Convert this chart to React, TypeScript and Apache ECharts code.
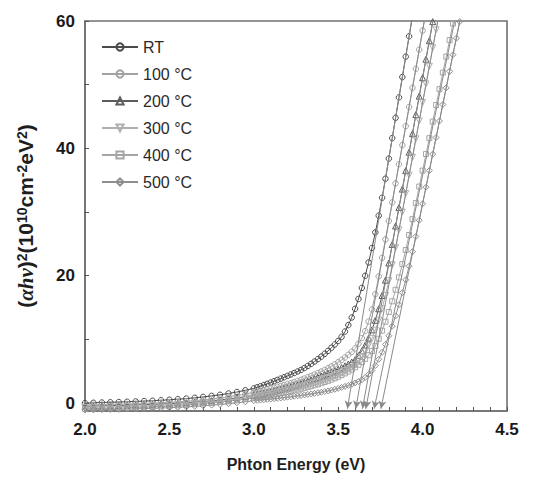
import React, { useEffect, useRef } from "react";
import * as echarts from "echarts";

// Photon energy grid (eV)
const energy = [
  2.0, 2.05, 2.1, 2.15, 2.2, 2.25, 2.3, 2.35, 2.4, 2.45, 2.5, 2.55, 2.6, 2.65, 2.7, 2.75, 2.8, 2.85, 2.9, 2.95, 3.0,
  3.02, 3.04, 3.06, 3.08, 3.1, 3.12, 3.14, 3.16, 3.18, 3.2,
  3.22, 3.24, 3.26, 3.28, 3.3, 3.32, 3.34, 3.36, 3.38, 3.4,
  3.42, 3.44, 3.46, 3.48, 3.5, 3.52, 3.54, 3.56, 3.58, 3.6,
  3.62, 3.64, 3.66, 3.68, 3.7, 3.72, 3.74, 3.76, 3.78, 3.8,
  3.82, 3.84, 3.86, 3.88, 3.9, 3.92, 3.94, 3.96, 3.98, 4.0,
  4.02, 4.04, 4.06, 4.08, 4.1, 4.12, 4.14, 4.16, 4.18, 4.2,
  4.22, 4.24,
];

const seriesNames = ["RT", "100 °C", "200 °C", "300 °C", "400 °C", "500 °C"];

const rtValues = [
  0.0, 0.04, 0.08, 0.12, 0.16, 0.2, 0.25, 0.3, 0.36, 0.43, 0.51, 0.6, 0.7, 0.82, 0.96, 1.12, 1.3, 1.5, 1.73, 2.0, 2.3,
  2.47, 2.65, 2.83, 3.02, 3.22, 3.42, 3.63, 3.84, 4.05, 4.27,
  4.49, 4.72, 4.96, 5.2, 5.5, 5.82, 6.16, 6.52, 6.9, 7.3,
  7.73, 8.19, 8.68, 9.2, 9.75, 10.4, 11.23, 12.24, 13.43, 14.8,
  16.35, 18.08, 19.99, 22.08, 24.35, 26.8, 29.43, 32.24, 35.23, 38.4,
  41.6, 44.8, 48.0, 51.2, 54.4, 57.6, 60.8,
];

const t100Values = [
  -0.3, -0.27, -0.24, -0.21, -0.18, -0.15, -0.11, -0.07, -0.02, 0.04, 0.11, 0.19, 0.28, 0.38, 0.5, 0.64, 0.8, 0.98, 1.19, 1.42, 1.68,
  1.79, 1.91, 2.03, 2.15, 2.28, 2.41, 2.55, 2.69, 2.84, 2.99,
  3.15, 3.31, 3.48, 3.66, 3.85, 4.05, 4.26, 4.48, 4.71, 4.95,
  5.2, 5.47, 5.76, 6.07, 6.4, 6.76, 7.15, 7.58, 8.05, 8.58,
  9.3, 10.2, 11.3, 12.8, 14.7, 17.1, 19.9, 22.8, 25.7, 28.6,
  31.5, 34.5, 37.5, 40.5, 43.5, 46.5, 49.5, 52.5, 55.5, 58.5,
  61.5,
];

const t200Values = [
  -0.5, -0.47, -0.44, -0.41, -0.38, -0.34, -0.3, -0.26, -0.21, -0.15, -0.09, -0.02, 0.06, 0.15, 0.25, 0.36, 0.49, 0.64, 0.81, 1.0, 1.21,
  1.31, 1.41, 1.52, 1.63, 1.75, 1.87, 2.0, 2.13, 2.27, 2.41,
  2.56, 2.72, 2.88, 3.05, 3.23, 3.42, 3.62, 3.83, 4.04, 4.25,
  4.45, 4.65, 4.86, 5.08, 5.32, 5.57, 5.84, 6.13, 6.45, 6.8,
  7.45, 8.2, 9.1, 10.2, 11.5, 13.0, 14.8, 16.9, 19.3, 22.0,
  24.9, 27.8, 30.7, 33.6, 36.5, 39.4, 42.3, 45.3, 48.2, 51.1,
  54.0, 56.9, 59.9, 62.8,
];

const t300Values = [
  -0.7, -0.67, -0.64, -0.61, -0.58, -0.54, -0.5, -0.46, -0.41, -0.35, -0.29, -0.22, -0.14, -0.05, 0.05, 0.16, 0.29, 0.43, 0.59, 0.78, 0.99,
  1.08, 1.17, 1.27, 1.37, 1.47, 1.58, 1.69, 1.81, 1.93, 2.06,
  2.19, 2.33, 2.47, 2.62, 2.78, 2.94, 3.11, 3.29, 3.48, 3.68,
  3.85, 4.03, 4.22, 4.42, 4.63, 4.86, 5.1, 5.36, 5.64, 6.0,
  6.6, 7.3, 8.1, 9.05, 10.15, 11.45, 13.0, 14.8, 16.9, 19.2,
  21.7, 24.4, 27.2, 30.0, 32.9, 35.8, 38.6, 41.5, 44.3, 47.2,
  50.1, 52.9, 55.8, 58.6, 61.5,
];

const t400Values = [
  -0.9, -0.87, -0.84, -0.81, -0.78, -0.74, -0.7, -0.65, -0.6, -0.54, -0.47, -0.39, -0.3, -0.2, -0.09, 0.03, 0.16, 0.3, 0.46, 0.63, 0.82,
  0.9, 0.98, 1.07, 1.16, 1.25, 1.34, 1.44, 1.54, 1.65, 1.76,
  1.87, 1.99, 2.11, 2.24, 2.37, 2.51, 2.65, 2.8, 2.95, 3.11,
  3.3, 3.49, 3.69, 3.91, 4.14, 4.39, 4.66, 4.95, 5.27, 5.62,
  6.01, 6.45, 6.95, 7.52, 8.17, 8.98, 10.1, 11.37, 12.77, 14.3,
  15.98, 17.79, 19.73, 21.82, 24.03, 26.39, 28.88, 31.4, 34.0, 36.5,
  39.1, 41.6, 44.2, 46.8, 49.3, 51.9, 54.4, 57.0, 59.6, 62.1,
];

const t500Values = [
  -1.1, -1.07, -1.04, -1.01, -0.98, -0.95, -0.91, -0.87, -0.83, -0.78, -0.73, -0.67, -0.6, -0.52, -0.43, -0.33, -0.22, -0.1, 0.04, 0.2, 0.37,
  0.42, 0.47, 0.52, 0.57, 0.62, 0.68, 0.74, 0.8, 0.86, 0.92,
  0.99, 1.06, 1.13, 1.2, 1.28, 1.36, 1.44, 1.52, 1.61, 1.7,
  1.8, 1.91, 2.03, 2.16, 2.3, 2.45, 2.61, 2.78, 2.96, 3.16,
  3.38, 3.66, 4.02, 4.48, 5.1, 5.89, 6.87, 7.97, 9.21, 10.57,
  12.07, 13.69, 15.45, 17.33, 19.35, 21.49, 23.77, 26.17, 28.71, 31.3,
  33.9, 36.5, 39.1, 41.7, 44.3, 46.9, 49.5, 52.1, 54.7, 57.3,
  59.9, 62.5,
];

// Extrapolated band-gap (tangent line intercepts) and where each tangent meets the top (y = 60)
const gapEnergy = [3.56, 3.61, 3.65, 3.67, 3.72, 3.76];
const tangentTopEnergy = [3.935, 4.01, 4.061, 4.09, 4.19, 4.22];

const xTickValues = [
  2.0, 2.1, 2.2, 2.3, 2.4, 2.5, 2.6, 2.7, 2.8, 2.9, 3.0, 3.1, 3.2, 3.3, 3.4, 3.5, 3.6, 3.7, 3.8, 3.9, 4.0, 4.1, 4.2, 4.3, 4.4, 4.5,
];
const xLabelValues = [2.0, 2.5, 3.0, 3.5, 4.0, 4.5];
const yTickValues = [0, 10, 20, 30, 40, 50, 60];
const yLabelValues = [0, 20, 40, 60];

const seriesValues = [rtValues, t100Values, t200Values, t300Values, t400Values, t500Values];
const seriesColors = ["#4a4a4a", "#a2a2a2", "#5c5c5c", "#b0b0b0", "#a6a6a6", "#8e8e8e"];
const seriesSymbols = ["circle", "circle", "triangle", "triangle", "rect", "diamond"];
const seriesSymbolRotate = [0, 0, 0, 180, 0, 0];
const seriesSymbolSize = [5.5, 5.5, 6, 6, 5, 6];

const FONT = "'Liberation Sans', Arial, Helvetica, sans-serif";
const ARROW_Y = -0.9;

export default function App() {
  const ref = useRef<HTMLDivElement>(null);

  useEffect(() => {
    document.body.style.margin = "0";
    if (!ref.current) return;
    const chart = echarts.init(ref.current, undefined, { renderer: "svg" });

    const lineSeries = seriesNames.map((name, k) => ({
      name,
      type: "line",
      data: seriesValues[k].map((v, i) => [energy[i], v]),
      symbol: seriesSymbols[k],
      symbolRotate: seriesSymbolRotate[k],
      symbolSize: seriesSymbolSize[k],
      showSymbol: true,
      clip: true,
      lineStyle: { color: seriesColors[k], width: 1 },
      itemStyle: { color: "rgba(255,255,255,0)", borderColor: seriesColors[k], borderWidth: 1 },
      emphasis: { disabled: true },
      z: 2,
    }));

    const tangentLines = gapEnergy.map((eg, k) => {
      const top = tangentTopEnergy[k];
      const startX = eg + (ARROW_Y * (top - eg)) / 60;
      return [{ coord: [startX, ARROW_Y] }, { coord: [top, 60] }];
    });

    const option = {
      animation: false,
      textStyle: { fontFamily: FONT },
      grid: {
        left: 85,
        right: 39,
        top: 21,
        bottom: 69,
        show: true,
        borderColor: "#707070",
        borderWidth: 1.6,
      },
      legend: {
        data: seriesNames,
        orient: "vertical",
        left: 96,
        top: 34,
        itemWidth: 36,
        itemHeight: 9,
        itemGap: 11,
        textStyle: { fontSize: 16, color: "#2a2a2a", fontFamily: FONT, lineHeight: 16 },
        selectedMode: false,
      },
      xAxis: {
        type: "value",
        min: 2.0,
        max: 4.5,
        name: "Phton Energy (eV)",
        nameLocation: "middle",
        nameGap: 45,
        nameTextStyle: { fontSize: 16, fontWeight: "bold", color: "#1e1e1e", fontFamily: FONT },
        axisLine: { show: true, onZero: false, lineStyle: { color: "#707070", width: 1.6 } },
        axisTick: {
          show: true,
          inside: true,
          length: 4,
          customValues: xTickValues,
          lineStyle: { color: "#555", width: 1 },
        },
        axisLabel: {
          customValues: xLabelValues,
          formatter: (v: number) => v.toFixed(1),
          fontSize: 17,
          fontWeight: "bold",
          color: "#1a1a1a",
          margin: 10,
          fontFamily: FONT,
        },
        splitLine: { show: false },
      },
      yAxis: {
        type: "value",
        min: -1.25,
        max: 60,
        name: "{b|(}{i|αhν}{b|)}{s|2}{b|(10}{s|10}{b|cm}{s|-2}{b|eV}{s|2}{b|)}",
        nameLocation: "middle",
        nameGap: 49,
        nameRotate: 90,
        nameTextStyle: {
          fontSize: 21,
          color: "#1e1e1e",
          fontFamily: FONT,
          rich: {
            b: { fontSize: 21, fontWeight: "bold", color: "#1e1e1e", fontFamily: FONT },
            i: { fontSize: 21, fontWeight: "bold", fontStyle: "italic", color: "#1e1e1e", fontFamily: "'Liberation Serif', serif" },
            s: { fontSize: 14, fontWeight: "bold", color: "#1e1e1e", fontFamily: FONT, verticalAlign: "top" },
          },
        },
        axisLine: { show: true, onZero: false, lineStyle: { color: "#707070", width: 1.6 } },
        axisTick: {
          show: true,
          inside: true,
          length: 4,
          customValues: yTickValues,
          lineStyle: { color: "#555", width: 1 },
        },
        axisLabel: {
          customValues: yLabelValues,
          fontSize: 17,
          fontWeight: "bold",
          color: "#1a1a1a",
          margin: 10,
          fontFamily: FONT,
        },
        splitLine: { show: false },
      },
      series: [
        ...lineSeries,
        {
          name: "tangents",
          type: "line",
          data: [],
          silent: true,
          markLine: {
            silent: true,
            symbol: ["arrow", "none"],
            symbolSize: [6, 8],
            label: { show: false },
            lineStyle: { color: "#8a8a8a", width: 1, type: "solid" },
            itemStyle: { color: "#333" },
            emphasis: { disabled: true },
            data: tangentLines,
          },
          z: 3,
        },
      ],
    };

    chart.setOption(option as any);
    return () => {
      chart.dispose();
    };
  }, []);

  return <div ref={ref} style={{ width: 546, height: 480 }} />;
}
